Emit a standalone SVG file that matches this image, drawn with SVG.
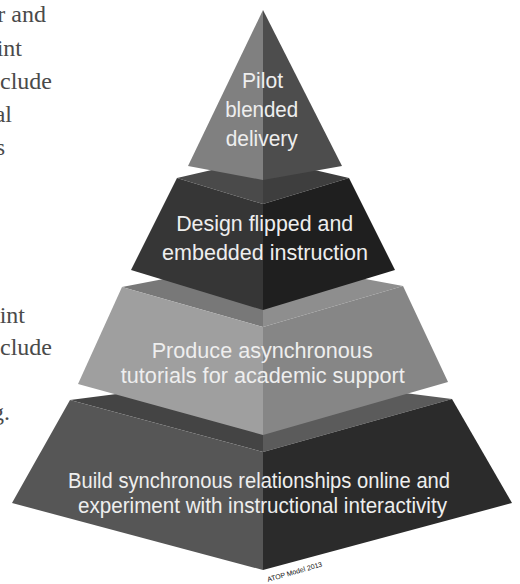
<svg xmlns="http://www.w3.org/2000/svg" width="520" height="584" viewBox="0 0 520 584">
<style>
.lbl{font-family:"Liberation Sans",Arial,sans-serif;fill:#eeeeee;text-anchor:middle;font-size:22px}
.page{font-family:"Liberation Serif","Times New Roman",serif;fill:#4a4a4a;font-size:24px;text-anchor:end}
.credit{font-family:"Liberation Sans",Arial,sans-serif;fill:#111;font-size:7px}
</style>
<rect width="520" height="584" fill="#ffffff"/>
<g id="page-text">
<text class="page" x="46" y="22">r and</text>
<text class="page" x="22" y="56">int</text>
<text class="page" x="52" y="89">clude</text>
<text class="page" x="12" y="122">al</text>
<text class="page" x="5" y="155">s</text>
<text class="page" x="25" y="323">int</text>
<text class="page" x="52" y="355">clude</text>
<text class="page" x="10" y="420">g.</text>
</g>
<g id="tier4">
<polygon points="70,400 263,375 263,452" fill="#444444"/>
<polygon points="263,375 452,399 263,452" fill="#5b5b5b"/>
<polygon points="70,400 263,452 263,570 12,503" fill="#565656"/>
<polygon points="263,452 452,399 512,503 263,570" fill="#2b2b2b"/>
<text class="lbl" x="259" y="487.5" textLength="382" lengthAdjust="spacingAndGlyphs">Build synchronous relationships online and</text>
<text class="lbl" x="262.5" y="513" textLength="369" lengthAdjust="spacingAndGlyphs">experiment with instructional interactivity</text>
</g>
<g id="tier3">
<polygon points="122,287 263,260 263,327" fill="#787878"/>
<polygon points="263,260 403,286 263,327" fill="#8e8e8e"/>
<polygon points="122,287 263,327 263,435 78,384" fill="#9f9f9f"/>
<polygon points="263,327 403,286 448,382 263,435" fill="#868686"/>
<text class="lbl" x="262.2" y="357.5" textLength="221" lengthAdjust="spacingAndGlyphs">Produce asynchronous</text>
<text class="lbl" x="262.8" y="383" textLength="284" lengthAdjust="spacingAndGlyphs">tutorials for academic support</text>
</g>
<g id="tier2">
<polygon points="177,178 263,158 263,204" fill="#4a4a4a"/>
<polygon points="263,158 349,178 263,204" fill="#3e3e3e"/>
<polygon points="177,178 263,204 263,310 131,270" fill="#363636"/>
<polygon points="263,204 349,178 395,270 263,310" fill="#1f1f1f"/>
<text class="lbl" x="264.7" y="230.5" textLength="177" lengthAdjust="spacingAndGlyphs">Design flipped and</text>
<text class="lbl" x="265" y="260" textLength="206" lengthAdjust="spacingAndGlyphs">embedded instruction</text>
</g>
<g id="tier1">
<polygon points="263,10 188,166 263,180" fill="#808080"/>
<polygon points="263,10 263,180 342,166" fill="#4d4d4d"/>
<text class="lbl" x="262.5" y="88" textLength="41" lengthAdjust="spacingAndGlyphs">Pilot</text>
<text class="lbl" x="261.7" y="117" textLength="73" lengthAdjust="spacingAndGlyphs">blended</text>
<text class="lbl" x="261.7" y="146" textLength="72" lengthAdjust="spacingAndGlyphs">delivery</text>
</g>
<g id="credit">
<text class="credit" x="268" y="582" transform="rotate(-16 268 582)">ATOP Model 2013</text>
</g>
</svg>
